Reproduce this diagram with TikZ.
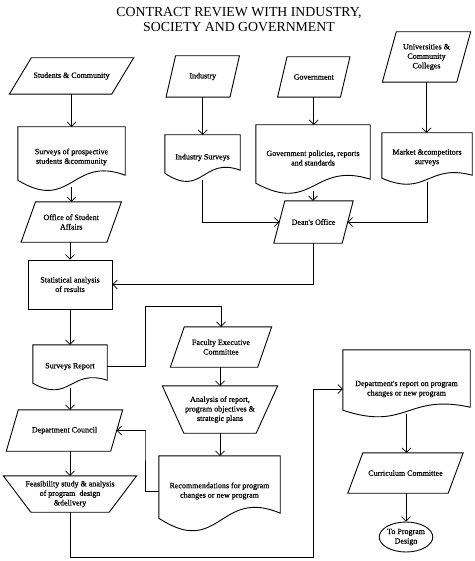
\documentclass[tikz,border=0pt]{standalone}
\usepackage{fontspec}
\setmainfont{Liberation Serif}
\newfontfamily\lblfam[FakeBold=0.6]{Liberation Serif}
\usetikzlibrary{arrows.meta,shapes.geometric,calc}
\newcommand\lblfont{\lblfam\fontsize{8}{9.5}\selectfont}
\tikzset{
  shp/.style={draw, line width=0.9pt},
  box/.style={inner sep=0pt, align=center, font=\lblfont},
  conn/.style={line width=0.7pt, -{Straight Barb[length=4.5pt,width=9pt,line width=0.7pt]}},
}
% parallelogram: name, half slant
\newcommand\mkpara[2]{\draw[shp] ([xshift=#2pt]#1.north west) -- ([xshift=#2pt]#1.north east) -- ([xshift=-#2pt]#1.south east) -- ([xshift=-#2pt]#1.south west) -- cycle;}
% manual operation trapezoid: name, half slant
\newcommand\mktrap[2]{\draw[shp] ([xshift=-#2pt]#1.north west) -- ([xshift=#2pt]#1.north east) -- ([xshift=-#2pt]#1.south east) -- ([xshift=#2pt]#1.south west) -- cycle;}
% document: name, left up, right up, D1, D2
\newcommand\mkdoc[5]{\draw[shp] (#1.north west) -- (#1.north east) -- ([yshift=#3pt]#1.south east) .. controls ([yshift=#3pt+#5pt]#1.south) and ([yshift=#2pt-#4pt]#1.south) .. ([yshift=#2pt]#1.south west) -- cycle;}
\begin{document}
\begin{tikzpicture}[x=1pt,y=-1pt]
\fill[white] (0,0) rectangle (474,561);
\useasboundingbox (0,0) rectangle (474,561);

\node[align=center, inner sep=0pt, font=\fontsize{13.8}{15}\selectfont] (title) at (239,20) {CONTRACT REVIEW WITH INDUSTRY,\\SOCIETY AND GOVERNMENT};

% top row parallelograms
\node[box, minimum width=102pt, minimum height=36pt] (stu) at (71.5,76) {Students \& Community};
\mkpara{stu}{11}
\node[box, minimum width=63.5pt, minimum height=41pt] (ind) at (202.75,76.5) {Industry};
\mkpara{ind}{4.75}
\node[box, minimum width=62.5pt, minimum height=40pt] (gov) at (313.75,77) {Government};
\mkpara{gov}{4.75}
\node[box, minimum width=74pt, minimum height=50pt] (uni) at (426.5,57) {Universities \&\\Community\\Colleges};
\mkpara{uni}{7}

% documents row
\node[box, minimum width=107pt, minimum height=60pt] (sp) at (71.5,157) {Surveys of prospective\\students \&community};
\mkdoc{sp}{7}{12}{32.7}{20}
\node[box, minimum width=75pt, minimum height=45pt] (is) at (202.5,157.5) {Industry Surveys};
\mkdoc{is}{7}{10}{25.3}{14}
\node[box, minimum width=114pt, minimum height=66pt] (gp) at (313,158) {Government policies, reports\\and standards};
\mkdoc{gp}{8}{12}{31.3}{18}
\node[box, minimum width=90pt, minimum height=49pt] (ms) at (427,157.5) {Market \&competitors\\surveys};
\mkdoc{ms}{4}{7}{19.3}{12}

% offices
\node[box, minimum width=85.5pt, minimum height=40pt] (osa) at (71.25,222) {Office of Student\\Affairs};
\mkpara{osa}{7.25}
\node[box, minimum width=68pt, minimum height=42pt] (dean) at (313.5,222) {Dean's Office};
\mkpara{dean}{5.5}

\node[box, shp, minimum width=84pt, minimum height=49pt] (stat) at (70,284.5) {Statistical analysis\\of results};

\node[box, minimum width=74pt, minimum height=43pt] (sr) at (70,366.5) {Surveys Report};
\mkdoc{sr}{5}{8}{20.7}{12}

\node[box, minimum width=87pt, minimum height=40pt] (fec) at (221,347) {Faculty Executive\\Committee};
\mkpara{fec}{7}
\node[box, minimum width=93.5pt, minimum height=47pt] (ana) at (220,409.5) {Analysis of report,\\program objectives \&\\strategic plans};
\mktrap{ana}{10.75}
\node[box, minimum width=121pt, minimum height=70pt] (rec) at (219.5,491) {Recommendations for program\\changes or new program};
\mkdoc{rec}{8}{13}{40}{26}

\node[box, minimum width=104pt, minimum height=41pt] (dc) at (64.5,430.5) {Department Council};
\mkpara{dc}{6}
\node[box, minimum width=105.5pt, minimum height=36pt] (fs) at (70,494) {Feasibility study \& analysis\\of program\ \ design\\\&delivery};
\mktrap{fs}{13.75}

\node[box, minimum width=127pt, minimum height=64pt] (dr) at (406.5,382) {};
\mkdoc{dr}{4}{7}{21.3}{14}
\node[box] (drtext) at ([yshift=-7pt]dr.center) {Department's report on program\\changes or new program};
\node[box, minimum width=100pt, minimum height=40pt] (cc) at (405.5,473) {Curriculum Committee};
\mkpara{cc}{7.5}
\node[box, shp, ellipse, minimum width=47pt, minimum height=30pt] (ell) at (406,537) {To Program\\Design};

% junction coordinates
\coordinate (j1) at (145,306);
\coordinate (j2) at (145,431);
\coordinate (j3) at (313,557);

% connectors
\draw[conn] (stu.south) -- (stu.south |- sp.north);
\draw[conn] (ind.south) -- (ind.south |- is.north);
\draw[conn] (gov.south) -- (gov.south |- gp.north);
\draw[conn] (uni.south) -- (uni.south |- ms.north);
\draw[conn] (sp.south) -- (sp.south |- osa.north);
\draw[conn] (is.south) |- (dean.west);
\draw[conn] (ms.south) |- (dean.east);
\draw[conn] (gp.south) -- (gp.south |- dean.north);
\draw[conn] (osa.south -| stat.north) -- (stat.north);
\draw[conn] (dean.south) |- (stat.east);
\draw[conn] (stat.south) -- (stat.south |- sr.north);
\draw[conn] (sr.east) -| (j1) -| (fec.north);
\draw[conn] (fec.south -| ana.north) -- (ana.north);
\draw[conn] (ana.south) -- (ana.south |- rec.north);
\draw[conn] (rec.west) -| (j2) |- (dc.east);
\draw[conn] (sr.south) -- (sr.south |- dc.north);
\draw[conn] (fs.north |- dc.south) -- (fs.north);
\draw[conn] (fs.south) |- (j3) |- ([yshift=-7pt]dr.west);
\draw[conn] (dr.south) -- (dr.south |- cc.north);
\draw[conn] (cc.south -| ell.north) -- (ell.north);
\end{tikzpicture}
\end{document}
